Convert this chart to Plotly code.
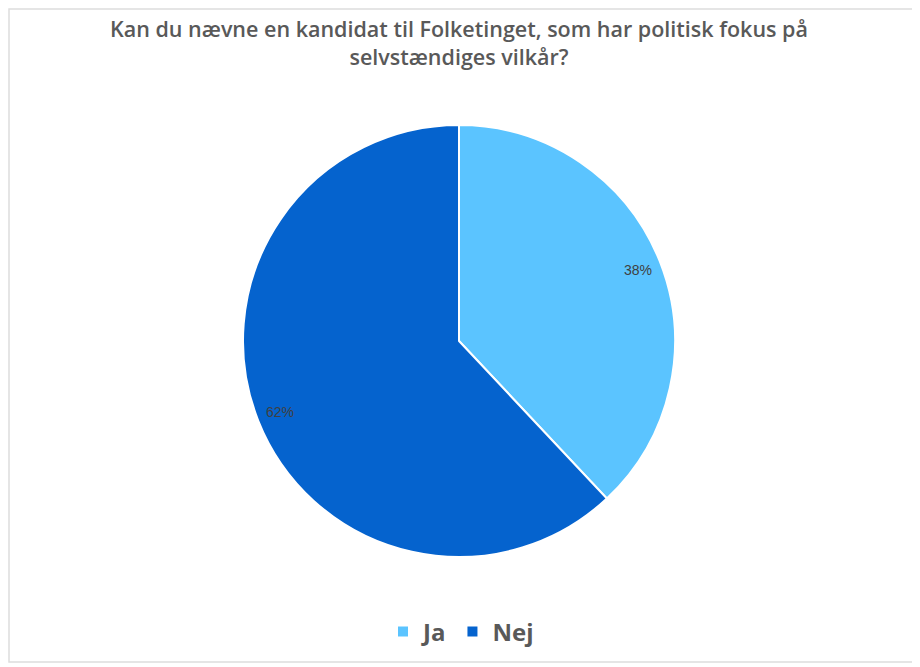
import math
import plotly.graph_objects as go

labels = ['Ja', 'Nej']
values = [38, 62]
colors = ['#5BC4FF', '#0563CE']
title = 'Kan du nævne en kandidat til Folketinget, som har politisk fokus på<br>selvstændiges vilkår?'

# the page puts the figure 8px in from the corner, so work in shifted pixels
off = 8
W, H = 920 - off, 667 - off
cx, cy, r = 459 - off, 341 - off, 216
dom_x = [(cx - r) / W, (cx + r) / W]
dom_y = [(H - cy - r) / H, (H - cy + r) / H]

fig = go.Figure()
fig.add_trace(go.Pie(labels=labels, values=values, sort=False, direction='clockwise',
                     rotation=0, marker=dict(colors=colors, line=dict(color='white', width=2)),
                     textinfo='none', hoverinfo='label+percent',
                     domain=dict(x=dom_x, y=dom_y)))

# percent labels at ~0.89 of the radius, in the middle of each slice
total = sum(values)
start = 0
for v in values:
    mid = (start + v / 2) / total * 2 * math.pi
    lx = cx + 0.89 * r * math.sin(mid)
    ly = cy - 0.89 * r * math.cos(mid)
    fig.add_annotation(x=lx / W, y=1 - ly / H, xref='paper', yref='paper',
                       xanchor='center', yanchor='middle',
                       text='%d%%' % round(v / total * 100), showarrow=False,
                       font=dict(family='Liberation Sans, Arial', size=14, color='#404040'))
    start += v

fig.add_shape(type='rect', xref='paper', yref='paper', x0=1 / W, x1=1 - 4 / W,
              y0=5 / H, y1=1 - 1 / H, line=dict(color='#DDDDDD', width=1.5), layer='below')

fig.update_layout(
    width=W, height=H,
    margin=dict(l=0, r=0, t=0, b=0),
    paper_bgcolor='white', plot_bgcolor='white',
    title=dict(text=title, x=(459 - off) / W, xanchor='center', y=1 - (37 - off) / H, yanchor='middle',
               font=dict(family='Open Sans', size=21.5, color='#595959', weight=600)),
    legend=dict(orientation='h', x=(461 - off) / W, xanchor='center', y=1 - (632 - off) / H, yanchor='middle',
                font=dict(family='Open Sans', size=24, color='#595959', weight=700),
                itemwidth=30),
    showlegend=True,
)
fig.write_html("out.html")
